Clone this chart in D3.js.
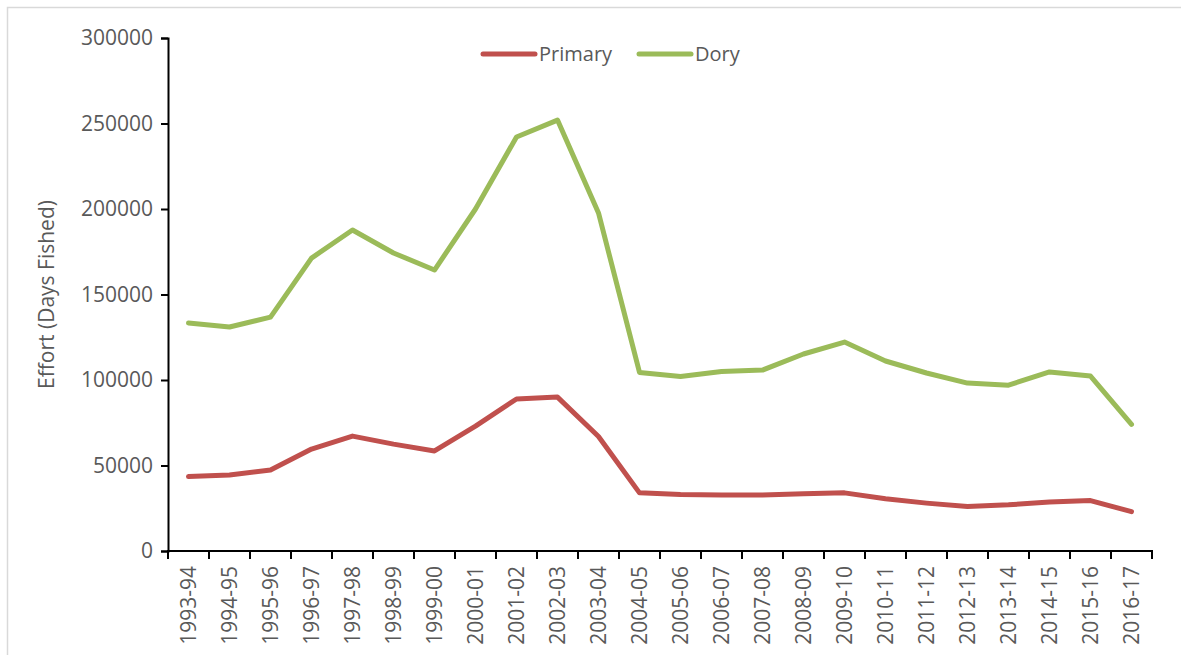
<!DOCTYPE html>
<html>
<head>
<meta charset="utf-8">
<script src="https://cdn.jsdelivr.net/npm/d3@7"></script>
<style>
  html, body { margin: 0; padding: 0; background: #fff; }
  svg { display: block; font-family: "Open Sans", sans-serif; }
</style>
</head>
<body>
<svg id="chart" width="1181" height="655"></svg>
<script>
// Fishing seasons
const seasons = ["1993-94","1994-95","1995-96","1996-97","1997-98","1998-99","1999-00",
  "2000-01","2001-02","2002-03","2003-04","2004-05","2005-06","2006-07","2007-08",
  "2008-09","2009-10","2010-11","2011-12","2012-13","2013-14","2014-15","2015-16","2016-17"];

// Effort (days fished) per season
const primary = [43500, 44400, 47400, 59600, 67200, 62500, 58500, 73000, 88900, 90000,
  67000, 34000, 33000, 32700, 32700, 33500, 34000, 30500, 28000, 26000, 27000, 28700, 29500, 23000];
const dory = [133300, 131000, 136800, 171300, 187700, 174300, 164300, 200000, 242100, 252000,
  197700, 104400, 102000, 105000, 105800, 115200, 122200, 111100, 104100, 98200, 97000, 104700, 102300, 74000];

const yTicks = [0, 50000, 100000, 150000, 200000, 250000, 300000];

const seriesList = [
  { name: "Primary", values: primary, color: "#C0504D" },
  { name: "Dory", values: dory, color: "#9BBB59" }
];

const svg = d3.select("#chart");
const textColor = "#595959";

// Outer frame
svg.append("rect")
  .attr("x", 7.5).attr("y", 7.5)
  .attr("width", 1200).attr("height", 700)
  .attr("fill", "none").attr("stroke", "#d9d9d9").attr("stroke-width", 1.5);

const plotLeft = 168, plotRight = 1152, plotTop = 38, plotBottom = 551;

const x = d3.scaleBand().domain(seasons).range([plotLeft, plotRight]).paddingInner(0).paddingOuter(0);
const y = d3.scaleLinear().domain([0, 300000]).range([plotBottom, plotTop]);

// Lines
const line = d3.line()
  .x((d, i) => x(seasons[i]) + x.bandwidth() / 2)
  .y(d => y(d));

svg.selectAll("path.series")
  .data(seriesList)
  .join("path")
  .attr("class", "series")
  .attr("d", d => line(d.values))
  .attr("fill", "none")
  .attr("stroke", d => d.color)
  .attr("stroke-width", 5)
  .attr("stroke-linejoin", "round")
  .attr("stroke-linecap", "round");

// Y axis
const yAxis = svg.append("g")
  .attr("transform", `translate(${plotLeft},0)`)
  .call(d3.axisLeft(y).tickValues(yTicks).tickFormat(d3.format("d")).tickSizeOuter(0).tickSize(7).tickPadding(8));
yAxis.select(".domain").attr("stroke", "#000").attr("stroke-width", 2);
yAxis.selectAll(".tick line").attr("stroke", "#000").attr("stroke-width", 2);
yAxis.selectAll(".tick text").attr("fill", textColor).style("font-size", "21px")
  .style("font-family", "'Open Sans', sans-serif");

// X axis: ticks at category boundaries
const xAxis = svg.append("g")
  .attr("transform", `translate(0,${plotBottom})`);
xAxis.append("line")
  .attr("x1", plotLeft).attr("x2", plotRight)
  .attr("stroke", "#000").attr("stroke-width", 2);
const boundaries = seasons.map(s => x(s)).concat([plotRight]);
xAxis.selectAll("line.tick")
  .data(boundaries)
  .join("line")
  .attr("class", "tick")
  .attr("x1", d => d).attr("x2", d => d)
  .attr("y1", -1).attr("y2", 8)
  .attr("stroke", "#000").attr("stroke-width", 2);
xAxis.selectAll("text.label")
  .data(seasons)
  .join("text")
  .attr("class", "label")
  .attr("transform", d => `translate(${x(d) + x.bandwidth() / 2 + 7},${15}) rotate(-90)`)
  .attr("text-anchor", "end")
  .attr("fill", textColor)
  .style("font-size", "21px")
  .text(d => d);

// Y axis title
svg.append("text")
  .attr("transform", `translate(${54},${(plotTop + plotBottom) / 2}) rotate(-90)`)
  .attr("text-anchor", "middle")
  .attr("fill", textColor)
  .style("font-size", "21px")
  .text("Effort (Days Fished)");

// Legend
const legendItems = [
  { name: "Primary", color: "#C0504D", x: 483 },
  { name: "Dory", color: "#9BBB59", x: 639 }
];
const lg = svg.append("g").selectAll("g").data(legendItems).join("g")
  .attr("transform", d => `translate(${d.x},54)`);
lg.append("line")
  .attr("x1", 0).attr("x2", 52)
  .attr("stroke", d => d.color).attr("stroke-width", 5).attr("stroke-linecap", "round");
lg.append("text")
  .attr("x", 56).attr("dy", "0.35em")
  .attr("fill", textColor)
  .style("font-size", "20px")
  .text(d => d.name);
</script>
</body>
</html>
